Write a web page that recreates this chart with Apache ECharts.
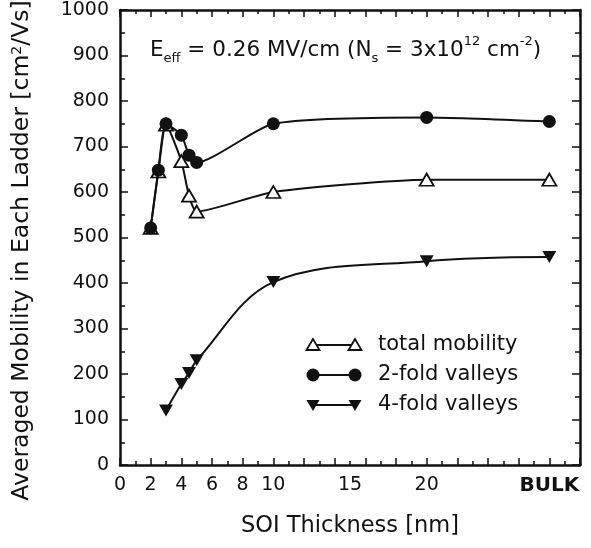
<!DOCTYPE html>
<html>
<head>
<meta charset="utf-8">
<script src="https://cdn.jsdelivr.net/npm/echarts@6/dist/echarts.min.js"></script>
<style>
html,body{margin:0;padding:0;background:#fff;}
#chart{width:591px;height:548px;}
</style>
</head>
<body>
<div id="chart"></div>
<script>
// ---- data ----
const xTickValues = [0, 2, 4, 6, 8, 10, 15, 20, 28];
const xTickLabels = ['0', '2', '4', '6', '8', '10', '15', '20', 'BULK'];
const thickness = [2, 2.5, 3, 4, 4.5, 5, 10, 20, 28];
const totalMobility = [521, 645, 748, 668, 592, 557, 600, 627, 627];
const twoFold = [521, 648, 750, 725, 681, 665, 750, 764, 755];
const thickness4 = [3, 4, 4.5, 5, 10, 20, 28];
const fourFold = [120, 178, 202, 230, 402, 448, 457];
const seriesNames = ['total mobility', '2-fold valleys', '4-fold valleys'];

const pair = (xs, ys) => xs.map((x, i) => [x, ys[i]]);
const FONT = '"DejaVu Sans", Verdana, sans-serif';
const BLACK = '#111';

const chart = echarts.init(document.getElementById('chart'), null, {renderer: 'canvas'});

const axisCommonX = {
  type: 'value', min: 0, max: 30, interval: 2,
  axisLine: {show: true, onZero: false, lineStyle: {color: BLACK, width: 2.5}},
  axisTick: {show: true, inside: true, length: 7, lineStyle: {color: BLACK, width: 1.5}},
  minorTick: {show: true, splitNumber: 2, length: 4, lineStyle: {color: BLACK, width: 1.5}},
  splitLine: {show: false}, minorSplitLine: {show: false}
};
const axisCommonY = {
  type: 'value', min: 0, max: 1000, interval: 100,
  axisLine: {show: true, onZero: false, lineStyle: {color: BLACK, width: 2.5}},
  axisTick: {show: true, inside: true, length: 8, lineStyle: {color: BLACK, width: 1.5}},
  minorTick: {show: true, splitNumber: 2, length: 5, lineStyle: {color: BLACK, width: 1.5}},
  splitLine: {show: false}, minorSplitLine: {show: false}
};

// legend drawn as graphic (line with symbols at both ends)
function legendRow(i, y) {
  const children = [
    {type: 'line', shape: {x1: 0, y1: 0, x2: 42, y2: 0}, style: {stroke: BLACK, lineWidth: 2}}
  ];
  [0, 42].forEach(x => {
    if (i === 0) {
      children.push({type: 'polygon', shape: {points: [[x, -6], [x - 6.5, 5], [x + 6.5, 5]]},
        style: {fill: '#fff', stroke: BLACK, lineWidth: 1.8}});
    } else if (i === 1) {
      children.push({type: 'circle', shape: {cx: x, cy: 0, r: 6.5}, style: {fill: BLACK}});
    } else {
      children.push({type: 'polygon', shape: {points: [[x, 6], [x - 6.5, -5], [x + 6.5, -5]]},
        style: {fill: BLACK}});
    }
  });
  children.push({type: 'text', x: 65, y: 0,
    style: {text: seriesNames[i], font: '21px ' + FONT, fill: BLACK, textVerticalAlign: 'middle'}});
  return {type: 'group', x: 313, y: y, children: children};
}

const option = {
  backgroundColor: '#fff',
  animation: false,
  grid: {left: 120, right: 11, top: 10, bottom: 83, outerBoundsMode: 'none', containLabel: false},
  xAxis: [
    Object.assign({}, axisCommonX, {
      position: 'bottom',
      name: 'SOI Thickness [nm]', nameLocation: 'middle', nameGap: 50,
      nameTextStyle: {fontFamily: FONT, fontSize: 22.5, color: BLACK},
      axisLabel: {
        show: true, customValues: xTickValues, margin: 11,
        fontFamily: FONT, fontSize: 19, color: BLACK,
        formatter: v => {
          const idx = xTickValues.indexOf(v);
          const t = idx >= 0 ? xTickLabels[idx] : '';
          return t === 'BULK' ? '{b|BULK}' : t;
        },
        rich: {b: {fontFamily: FONT, fontSize: 20, fontWeight: 'bold', color: BLACK}}
      }
    }),
    Object.assign({}, axisCommonX, {position: 'top', axisLabel: {show: false}})
  ],
  yAxis: [
    Object.assign({}, axisCommonY, {
      position: 'left',
      name: 'Averaged Mobility in Each Ladder [cm{sup|2}/Vs]',
      nameLocation: 'middle', nameGap: 86, nameRotate: 90,
      nameTextStyle: {fontFamily: FONT, fontSize: 23.5, color: BLACK, padding: [0, 26, 0, 0],
        rich: {sup: {fontFamily: FONT, fontSize: 14, color: BLACK, verticalAlign: 'top', lineHeight: 10}}},
      axisLabel: {show: true, margin: 11, fontFamily: FONT, fontSize: 19, color: BLACK,
        formatter: v => String(v)}
    }),
    Object.assign({}, axisCommonY, {position: 'right', axisLabel: {show: false}})
  ],
  graphic: [
    {type: 'text', left: 150, top: 35,
      style: {
        text: '{m|E}{sub|eff}{m| = 0.26 MV/cm (N}{sub|s}{m| = 3x10}{sup|12}{m| cm}{sup|-2}{m|)}',
        rich: {
          m: {fontFamily: FONT, fontSize: 21.5, fill: BLACK, lineHeight: 30, verticalAlign: 'middle'},
          sub: {fontFamily: FONT, fontSize: 13, fill: BLACK, lineHeight: 15, verticalAlign: 'bottom'},
          sup: {fontFamily: FONT, fontSize: 13, fill: BLACK, lineHeight: 15, verticalAlign: 'top'}
        }
      }
    },
    legendRow(0, 345),
    legendRow(1, 375),
    legendRow(2, 405)
  ],
  series: [
    {
      name: seriesNames[2], type: 'line', xAxisIndex: 0, yAxisIndex: 0,
      data: pair(thickness4, fourFold), smooth: 0.35,
      symbol: 'triangle', symbolRotate: 180, symbolSize: [14, 12],
      lineStyle: {color: BLACK, width: 2}, itemStyle: {color: BLACK}, z: 3
    },
    {
      name: seriesNames[0], type: 'line', xAxisIndex: 0, yAxisIndex: 0,
      data: pair(thickness, totalMobility), smooth: 0.2,
      symbol: 'triangle', symbolSize: [14, 12], showAllSymbol: true,
      lineStyle: {color: BLACK, width: 2},
      itemStyle: {color: '#fff', borderColor: BLACK, borderWidth: 1.8}, z: 4
    },
    {
      name: seriesNames[1], type: 'line', xAxisIndex: 0, yAxisIndex: 0,
      data: pair(thickness, twoFold), smooth: 0.2,
      symbol: 'circle', symbolSize: 13, showAllSymbol: true,
      lineStyle: {color: BLACK, width: 2}, itemStyle: {color: BLACK}, z: 5
    }
  ]
};
chart.setOption(option);
</script>
</body>
</html>
